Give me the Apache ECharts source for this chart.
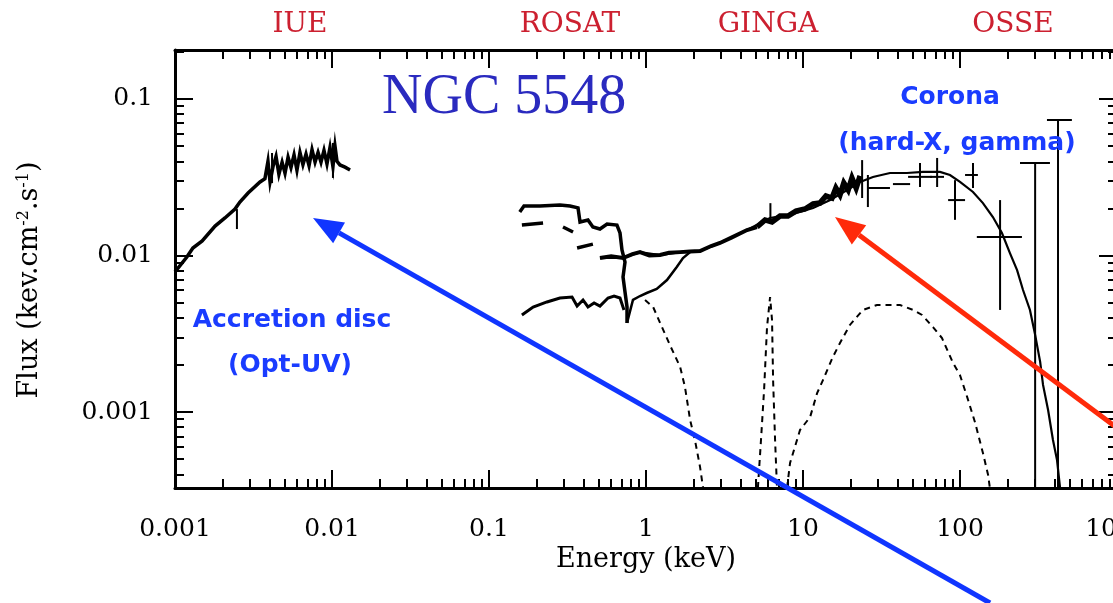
<!DOCTYPE html>
<html>
<head>
<meta charset="utf-8">
<script src="https://cdn.jsdelivr.net/npm/echarts@6/dist/echarts.min.js"></script>
<style>
  html, body { margin: 0; padding: 0; background: #fff; }
  #chart { width: 1113px; height: 603px; }
</style>
</head>
<body>
<div id="chart"></div>
<script>
// ---- Broad-band spectrum of NGC 5548 (energy in keV, flux in keV.cm-2.s-1) ----

// axis extents and tick labels
const xMin = 0.001, xMax = 1000;
const yMin = 0.000327, yMax = 0.2056;
const xTicks = [0.001, 0.01, 0.1, 1, 10, 100, 1000];
const xTickLabels = ['0.001', '0.01', '0.1', '1', '10', '100', '1000'];
const yTicks = [0.001, 0.01, 0.1];
const yTickLabels = ['0.001', '0.01', '0.1'];

// IUE optical/UV spectrum
const iueE = [0.001, 0.00119, 0.0013, 0.00149, 0.0018, 0.00208, 0.00241, 0.00259, 0.00292, 0.00348,
  0.00374, 0.00391, 0.00403, 0.00421, 0.00440, 0.00459, 0.00481, 0.00502, 0.00525, 0.00548,
  0.00573, 0.00598, 0.00625, 0.00653, 0.00683, 0.00714, 0.00746, 0.00780, 0.00815, 0.00851,
  0.00889, 0.00929, 0.00971, 0.01014, 0.01045, 0.01076, 0.01124, 0.01210, 0.01303];
const iueF = [0.00785, 0.00977, 0.01117, 0.01239, 0.01542, 0.01737, 0.01983, 0.02198, 0.02508, 0.02951,
  0.0310, 0.0400, 0.0295, 0.0370, 0.0430, 0.0330, 0.0395, 0.0335, 0.0425, 0.0365,
  0.0440, 0.0350, 0.0455, 0.0380, 0.0445, 0.0375, 0.0475, 0.0395, 0.0455, 0.0395,
  0.0470, 0.0385, 0.0490, 0.0370, 0.0500, 0.0400, 0.0379, 0.0367, 0.0352];

// ROSAT soft X-ray data: upper branch, lower branch and short fragments
const rosatHiE = [0.157, 0.167, 0.211, 0.283, 0.328, 0.369, 0.380, 0.427, 0.459, 0.509,
  0.565, 0.653, 0.683, 0.703, 0.735, 0.714, 0.735, 0.757, 0.757];
const rosatHiF = [0.01897, 0.02071, 0.02071, 0.02103, 0.02071, 0.02015, 0.01637, 0.01686, 0.01521, 0.01476,
  0.01589, 0.01566, 0.01393, 0.01084, 0.00908, 0.00729, 0.00585, 0.00469, 0.00371];
const rosatLoE = [0.162, 0.191, 0.234, 0.283, 0.338, 0.364, 0.397, 0.427, 0.467, 0.509, 0.573, 0.626, 0.683, 0.724];
const rosatLoF = [0.00417, 0.00469, 0.00505, 0.00535, 0.00543, 0.00476, 0.00520, 0.00469, 0.00497, 0.00475,
  0.00535, 0.00551, 0.00535, 0.00449];
const rosatMidE = [0.162, 0.221, null, 0.296, 0.343, null, 0.364, 0.459];
const rosatMidF = [0.01566, 0.01614, null, 0.01521, 0.01413, null, 0.01117, 0.01183];
const rosatRiseE = [0.757, 0.826, 0.916, 1.01, 1.17, 1.36, 1.57, 1.72, 1.91];
const rosatRiseF = [0.00371, 0.00520, 0.00551, 0.00576, 0.00611, 0.00697, 0.00845, 0.00964, 0.01051];

// continuum data 0.5-5 keV and GINGA hard X-ray data
const contE = [0.509, 0.60, 0.715, 0.82, 0.916, 1.05, 1.228, 1.4, 1.648, 1.9, 2.21, 2.6, 2.96, 3.5, 4.40, 5.09];
const contF = [0.00964, 0.00990, 0.00964, 0.0102, 0.01051, 0.0100, 0.01007, 0.0104, 0.01051, 0.0106,
  0.01069, 0.0115, 0.01202, 0.0130, 0.01455, 0.0152];
const gingaE = [5.09, 5.73, 6.35, 7.14, 8.02, 9.02, 10.3, 11.6, 12.8, 14.0, 15.3, 16.2, 17.2, 18.2, 19.4, 20.5, 21.8, 23.1];
const gingaF = [0.01520, 0.01687, 0.01637, 0.01787, 0.01787, 0.01923, 0.01982, 0.02133, 0.02163, 0.02399,
  0.02330, 0.02698, 0.02438, 0.02904, 0.02624, 0.03126, 0.02698, 0.03222];

// total model (solid)
const modelE = [0.509, 0.715, 0.916, 1.228, 1.648, 2.21, 2.96, 4.40, 6.16, 8.63, 11.6, 14.9, 19.1, 23.1, 27.9,
  35.8, 45.9, 58.1, 74.6, 86.3, 100, 121, 140, 162, 185, 208, 231, 252, 279, 301, 324, 338, 364, 391, 415, 434];
const modelF = [0.00964, 0.00964, 0.01051, 0.01007, 0.01051, 0.01069, 0.01202, 0.01455, 0.01737, 0.01841,
  0.02013, 0.02264, 0.02624, 0.02951, 0.03177, 0.03366, 0.03366, 0.03419, 0.03419, 0.03268, 0.02951, 0.02547,
  0.02163, 0.01762, 0.01393, 0.01037, 0.00807, 0.00602, 0.00449, 0.00311, 0.00209, 0.00149, 0.00103,
  0.000663, 0.000493, 0.000327];

// dashed model components: soft excess, iron line, reflection hump
const softE = [0.986, 1.11, 1.23, 1.42, 1.65, 1.77, 1.91, 2.05, 2.21, 2.31];
const softF = [0.00520, 0.00469, 0.00371, 0.00268, 0.00194, 0.00145, 0.000889, 0.000662, 0.000445, 0.000327];
const ironE = [5.16, 5.40, 5.65, 5.90, 6.17, 6.35, 6.45, 6.64, 6.83];
const ironF = [0.000327, 0.000662, 0.00138, 0.00349, 0.00543, 0.00387, 0.00160, 0.000662, 0.000327];
const reflE = [7.91, 8.27, 9.57, 11.1, 12.3, 13.4, 15.5, 17.2, 19.9, 24.1, 29.6, 41.5, 50.2, 57.3, 67.3,
  76.8, 90.2, 100, 111, 125, 140, 151, 155];
const reflF = [0.000327, 0.000472, 0.000767, 0.000929, 0.00132, 0.00160, 0.00225, 0.00276, 0.00360, 0.00449,
  0.00483, 0.00483, 0.00449, 0.00417, 0.00349, 0.00297, 0.00206, 0.00172, 0.00125, 0.000851, 0.000547,
  0.000396, 0.000327];

// error bars: centre, energy range, flux range
const errE    = [0.00248, 0.00415, 0.01014, 6.2, 23.8, 25.9, 41.5, 55.6, 71.5, 92.9, 121, 180, 301, 421];
const errF    = [0.0174, 0.036, 0.042, 0.0185, 0.030, 0.027, 0.0286, 0.0318, 0.0318, 0.0226, 0.0327, 0.01312, 0.0390, 0.0734];
const errElo  = [0.00248, 0.00415, 0.01014, 6.2, 23.8, 25.9, 37.4, 46.7, 64.4, 84, 107.7, 128, 241, 358];
const errEhi  = [0.00248, 0.00415, 0.01014, 6.2, 23.8, 35.8, 48.1, 66.4, 79.1, 107.7, 130, 248, 374, 516];
const errFlo  = [0.01476, 0.0290, 0.0313, 0.0168, 0.0233, 0.0204, 0.0286, 0.0274, 0.0274, 0.0169, 0.0270, 0.00449, 0.000327, 0.000327];
const errFhi  = [0.0198, 0.0452, 0.0524, 0.0216, 0.0407, 0.0327, 0.0286, 0.0390, 0.0420, 0.0303, 0.0390, 0.0226, 0.0390, 0.0734];

// ---- helpers ----
const pairs = (xs, ys) => xs.map((x, i) => (x == null || ys[i] == null) ? '-' : [x, ys[i]]);
const labelOf = (ticks, labels) => v => {
  const i = ticks.findIndex(t => Math.abs(Math.log10(t) - Math.log10(v)) < 1e-6);
  return i >= 0 ? labels[i] : '';
};
function minorTicks(lo, hi) {
  const out = [];
  for (let d = -5; d <= 3; d++) {
    for (let m = 2; m <= 9; m++) {
      const v = +(m * Math.pow(10, d)).toPrecision(3);
      if (v > lo && v < hi) out.push(v);
    }
  }
  return out;
}
const xMinor = minorTicks(xMin, xMax);
const yMinor = minorTicks(yMin, yMax);

const serif = 'DejaVu Serif';
const frame = { show: true, lineStyle: { color: '#000', width: 3 } };

function xAxisDef(position, major, withLabels) {
  return {
    type: 'log', logBase: 10, min: xMin, max: xMax, position,
    axisLine: major ? frame : { show: false },
    splitLine: { show: false },
    axisTick: {
      show: true, inside: true, length: major ? 18 : 9,
      lineStyle: { color: '#000', width: 2 },
      customValues: major ? xTicks : xMinor
    },
    axisLabel: withLabels ? {
      show: true, customValues: xTicks, margin: 29,
      fontFamily: serif, fontSize: 25, color: '#000',
      formatter: labelOf(xTicks, xTickLabels)
    } : { show: false },
    name: withLabels ? 'Energy (keV)' : '',
    nameLocation: 'middle', nameGap: 58,
    nameTextStyle: { fontFamily: serif, fontSize: 27, color: '#000' }
  };
}
function yAxisDef(position, major, withLabels) {
  return {
    type: 'log', logBase: 10, min: yMin, max: yMax, position,
    axisLine: major ? frame : { show: false },
    splitLine: { show: false },
    axisTick: {
      show: true, inside: true, length: major ? 18 : 9,
      lineStyle: { color: '#000', width: 2 },
      customValues: major ? yTicks : yMinor
    },
    axisLabel: withLabels ? {
      show: true, customValues: yTicks, margin: 22,
      fontFamily: serif, fontSize: 25, color: '#000',
      formatter: labelOf(yTicks, yTickLabels)
    } : { show: false },
    name: withLabels ? 'Flux (kev.cm{sup|-2}.s{sup|-1})' : '',
    nameLocation: 'middle', nameGap: 131, nameRotate: 90,
    nameTextStyle: {
      fontFamily: serif, fontSize: 27, color: '#000', padding: [0, 22, 0, 0],
      rich: { sup: { fontFamily: serif, fontSize: 16, color: '#000', padding: [0, 0, 12, 0] } }
    }
  };
}

function lineSeries(name, xs, ys, width, dashed) {
  return {
    name, type: 'line', xAxisIndex: 0, yAxisIndex: 0,
    data: pairs(xs, ys), showSymbol: false, symbol: 'none',
    connectNulls: false, clip: true, animation: false, z: 3,
    lineStyle: { color: '#000', width, type: dashed ? [6, 5] : 'solid', join: 'miter' }
  };
}

const errData = errE.map((e, i) => [e, errF[i], errElo[i], errEhi[i], errFlo[i], errFhi[i]]);

const option = {
  backgroundColor: '#fff',
  animation: false,
  grid: { left: 175, top: 50, width: 942, height: 438, containLabel: false, outerBoundsMode: 'none' },
  xAxis: [
    xAxisDef('bottom', true, true),
    xAxisDef('bottom', false, false),
    xAxisDef('top', true, false),
    xAxisDef('top', false, false)
  ],
  yAxis: [
    yAxisDef('left', true, true),
    yAxisDef('left', false, false),
    yAxisDef('right', true, false),
    yAxisDef('right', false, false)
  ],
  series: [
    lineSeries('IUE', iueE, iueF, 3.5, false),
    lineSeries('ROSAT high', rosatHiE, rosatHiF, 3.5, false),
    lineSeries('ROSAT low', rosatLoE, rosatLoF, 3, false),
    lineSeries('ROSAT fragments', rosatMidE, rosatMidF, 3.5, false),
    lineSeries('ROSAT rise', rosatRiseE, rosatRiseF, 2.5, false),
    lineSeries('Continuum', contE, contF, 4, false),
    lineSeries('GINGA', gingaE, gingaF, 5.5, false),
    lineSeries('Model', modelE, modelF, 2.2, false),
    lineSeries('Soft excess', softE, softF, 2, true),
    lineSeries('Fe line', ironE, ironF, 2, true),
    lineSeries('Reflection', reflE, reflF, 2, true),
    {
      name: 'Error bars', type: 'custom', xAxisIndex: 0, yAxisIndex: 0,
      data: errData, clip: true, animation: false, z: 4,
      renderItem(params, api) {
        const x = api.value(0), y = api.value(1);
        const top = api.coord([x, api.value(5)]);
        const bot = api.coord([x, api.value(4)]);
        const left = api.coord([api.value(2), y]);
        const right = api.coord([api.value(3), y]);
        const st = { stroke: '#000', lineWidth: 2 };
        return {
          type: 'group',
          children: [
            { type: 'line', shape: { x1: top[0], y1: top[1], x2: bot[0], y2: bot[1] }, style: st },
            { type: 'line', shape: { x1: left[0], y1: left[1], x2: right[0], y2: right[1] }, style: st }
          ]
        };
      }
    }
  ]
};

const chart = echarts.init(document.getElementById('chart'), null, { renderer: 'canvas' });
chart.setOption(option);

// ---- annotations: instrument bands, source name, component labels and arrows ----
function arrow(tail, tip, color) {
  const dx = tip[0] - tail[0], dy = tip[1] - tail[1];
  const len = Math.hypot(dx, dy);
  const ux = dx / len, uy = dy / len;
  const head = 30, half = 12;
  const bx = tip[0] - head * ux, by = tip[1] - head * uy;
  return [
    { type: 'line', z: 100, shape: { x1: tail[0], y1: tail[1], x2: bx, y2: by },
      style: { stroke: color, lineWidth: 5 } },
    { type: 'polygon', z: 100,
      shape: { points: [tip, [bx - half * uy, by + half * ux], [bx + half * uy, by - half * ux]] },
      style: { fill: color } }
  ];
}
function label(text, x, y, font, color, align) {
  return {
    type: 'text', z: 90, x, y,
    style: { text, font, fill: color, align: align || 'center', verticalAlign: 'middle',
             textAlign: align || 'center', textVerticalAlign: 'middle' }
  };
}

const instFont = '28px "DejaVu Serif"';
const instColor = '#cc2030';
const noteFont = 'bold 25px "DejaVu Sans"';
const noteColor = '#1a3cff';

chart.setOption({
  graphic: [
    label('IUE', 300, 25, instFont, instColor),
    label('ROSAT', 570, 25, instFont, instColor),
    label('GINGA', 768, 25, instFont, instColor),
    label('OSSE', 1013, 25, instFont, instColor),
    label('NGC 5548', 382, 98, '56px "Liberation Serif"', '#2a2abf', 'left'),
    label('Corona', 950, 97, noteFont, noteColor),
    label('(hard-X, gamma)', 957, 143, noteFont, noteColor),
    label('Accretion disc', 292, 320, noteFont, noteColor),
    label('(Opt-UV)', 290, 365, noteFont, noteColor),
    ...arrow([990, 603], [313, 218], '#1035ff'),
    ...arrow([1140, 445], [835, 217], '#ff2a0a')
  ]
});
</script>
</body>
</html>
